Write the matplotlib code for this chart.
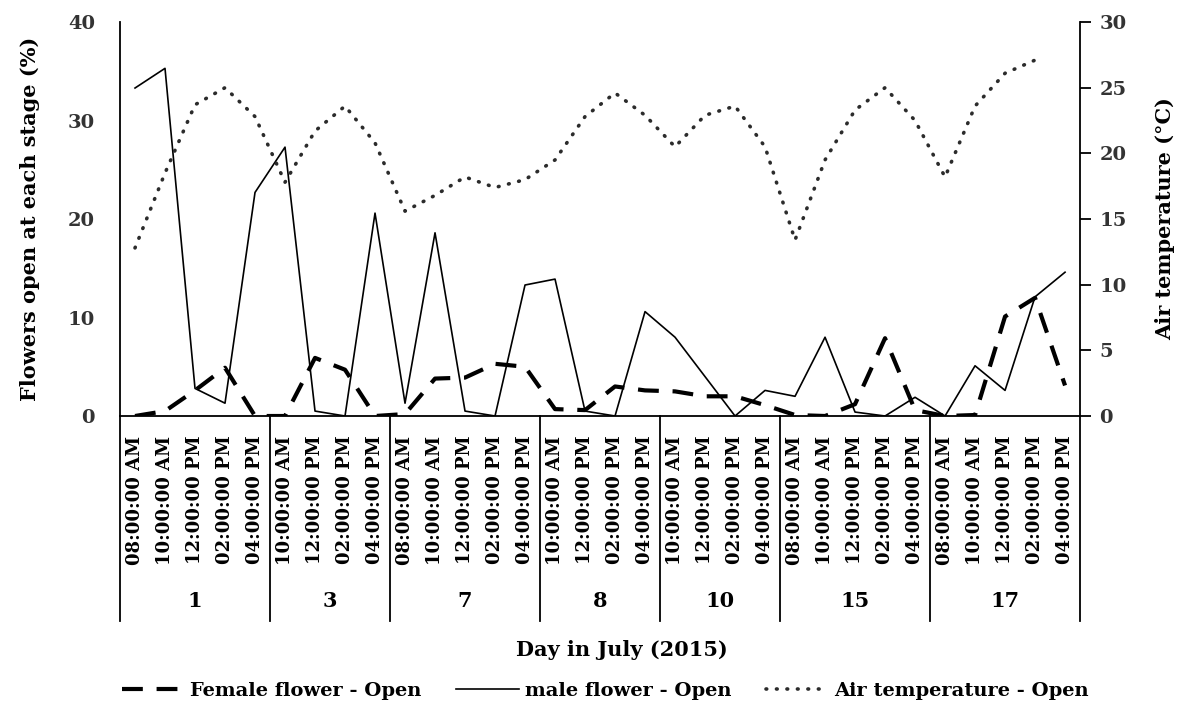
import matplotlib.pyplot as plt
import matplotlib.transforms as mtransforms
import numpy as np

#data
days = ['1', '3', '7', '8', '10', '15', '17']
times = [['08:00:00 AM', '10:00:00 AM', '12:00:00 PM', '02:00:00 PM', '04:00:00 PM'],
         ['10:00:00 AM', '12:00:00 PM', '02:00:00 PM', '04:00:00 PM'],
         ['08:00:00 AM', '10:00:00 AM', '12:00:00 PM', '02:00:00 PM', '04:00:00 PM'],
         ['10:00:00 AM', '12:00:00 PM', '02:00:00 PM', '04:00:00 PM'],
         ['10:00:00 AM', '12:00:00 PM', '02:00:00 PM', '04:00:00 PM'],
         ['08:00:00 AM', '10:00:00 AM', '12:00:00 PM', '02:00:00 PM', '04:00:00 PM'],
         ['08:00:00 AM', '10:00:00 AM', '12:00:00 PM', '02:00:00 PM', '04:00:00 PM']]

female = [0.0, 0.5, 2.6, 4.9, 0.0, 0.0, 5.9, 4.7, 0.0, 0.2, 3.8, 3.9, 5.3, 5.0, 0.7, 0.6,
          3.0, 2.6, 2.5, 2.0, 2.0, 1.1, 0.1, 0.0, 1.2, 7.9, 0.6, 0.0, 0.1, 10.1, 12.0, 3.1]
male = [33.3, 35.3, 2.8, 1.3, 22.7, 27.3, 0.5, 0.0, 20.6, 1.3, 18.6, 0.5, 0.0, 13.3, 13.9, 0.5,
        0.0, 10.6, 8.0, 4.0, 0.0, 2.6, 2.0, 8.0, 0.4, 0.0, 1.9, 0.0, 5.1, 2.6, 12.1, 14.6]
air_temp = [12.8, 18.5, 23.7, 25.0, 22.8, 17.8, 21.7, 23.6, 20.8, 15.6, 16.8, 18.2, 17.4, 18.0, 19.5, 22.8,
            24.6, 22.9, 20.5, 22.9, 23.6, 20.5, 13.4, 19.5, 23.3, 25.0, 22.5, 18.2, 23.6, 26.1, 27.1, np.nan]

font = 'DejaVu Serif'
tick_labels = [t for grp in times for t in grp]
x = np.arange(len(tick_labels))

fig = plt.figure(figsize=(11.87, 7.11), dpi=100)
ax = fig.add_axes([0.1011, 0.4149, 0.8088, 0.5541])
ax2 = ax.twinx()

l1, = ax.plot(x, female, color='black', lw=3, ls=(0, (5, 3.3)), label='Female flower - Open')
l2, = ax.plot(x, male, color='black', lw=1.2, ls='-', label='male flower - Open')
l3, = ax2.plot(x, air_temp, color='#2b2b2b', lw=2.6, ls=(0, (0.2, 2.7)), dash_capstyle='round',
               label='Air temperature - Open')

ax.set_xlim(-0.5, len(x) - 0.5)
ax.set_ylim(0, 40)
ax2.set_ylim(0, 30)
ax.set_yticks([0, 10, 20, 30, 40])
ax2.set_yticks([0, 5, 10, 15, 20, 25, 30])

for a in (ax, ax2):
    a.spines['top'].set_visible(False)
    a.spines['left'].set_linewidth(1.3)
    a.spines['right'].set_linewidth(1.3)
    a.spines['bottom'].set_linewidth(1.3)
ax.spines['right'].set_visible(False)
ax2.spines['left'].set_visible(False)
ax2.spines['bottom'].set_visible(False)

ax.tick_params(axis='y', length=0, pad=18, labelsize=14)
ax2.tick_params(axis='y', length=8, width=1.3, pad=6, labelsize=14)
for lab in ax.get_yticklabels() + ax2.get_yticklabels():
    lab.set_fontfamily(font)
    lab.set_fontweight('bold')
    lab.set_color('#333333')

#time labels as x ticks
ax.set_xticks(x)
ax.set_xticklabels(tick_labels, rotation=90, family=font, fontweight='bold', fontsize=13)
ax.tick_params(axis='x', length=0, pad=14)

#day groups under the time labels
trans = mtransforms.blended_transform_factory(ax.transData, ax.transAxes)
edges = np.concatenate([[0], np.cumsum([len(g) for g in times])]) - 0.5
for e in edges:
    ax.plot([e, e], [0, -0.52], color='black', lw=1.3, transform=trans, clip_on=False)
for i, d in enumerate(days):
    ax.text((edges[i] + edges[i + 1]) / 2, -0.47, d, transform=trans, ha='center', va='center',
            family=font, fontweight='bold', fontsize=15)

ax.set_ylabel('Flowers open at each stage (%)', family=font, fontweight='bold', fontsize=15, labelpad=20)
ax2.set_ylabel('Air temperature (°C)', family=font, fontweight='bold', fontsize=15, labelpad=20)
fig.text(0.5236, 0.086, 'Day in July (2015)', ha='center', va='center', family=font,
         fontweight='bold', fontsize=15)

fig.legend(handles=[l1, l2, l3], loc='center', bbox_to_anchor=(0.51, 0.028), ncol=3, frameon=False,
           prop={'family': font, 'weight': 'bold', 'size': 14}, handlelength=3.2, columnspacing=1.8,
           handletextpad=0.3)

fig.savefig('out.png', dpi=100)
